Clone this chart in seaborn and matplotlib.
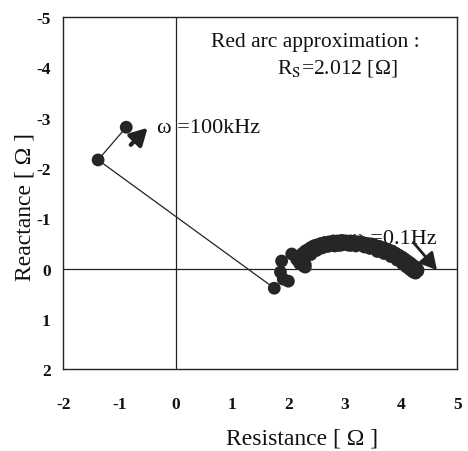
import numpy as np
import pandas as pd
import seaborn as sns
import matplotlib.pyplot as plt

# impedance points (resistance, reactance)
hf_r = [-0.88, -1.38, 1.75]
hf_x = [-2.81, -2.16, 0.39]

cluster_r = [1.86, 1.88, 1.91, 2.00, 2.06, 2.24, 2.30, 2.20, 2.27]
cluster_x = [0.07, -0.15, 0.21, 0.25, -0.29, -0.15, -0.03, -0.10, -0.05]

arc_r = [2.15, 2.20, 2.25, 2.30, 2.35, 2.40, 2.45, 2.50, 2.58, 2.65, 2.72, 2.80,
         2.88, 2.95, 3.02, 3.10, 3.18, 3.25, 3.32, 3.40, 3.47, 3.55, 3.62, 3.70,
         3.77, 3.84, 3.90, 3.96, 4.02, 4.07, 4.12, 4.17, 4.21, 4.25, 4.28, 4.30,
         2.90, 3.10, 3.60, 4.00, 4.20, 4.30, 2.40]
arc_x = [-0.18, -0.25, -0.30, -0.35, -0.38, -0.42, -0.45, -0.47, -0.50, -0.52, -0.53, -0.55,
         -0.55, -0.56, -0.55, -0.55, -0.54, -0.53, -0.52, -0.50, -0.49, -0.46, -0.44, -0.41,
         -0.38, -0.35, -0.31, -0.27, -0.23, -0.19, -0.15, -0.11, -0.07, -0.04, -0.01, 0.02,
         -0.46, -0.46, -0.37, -0.15, 0.05, 0.05, -0.32]

# lower edge of the thick arc band
band_r = [2.30, 2.40, 2.50, 2.60, 2.70, 2.82, 2.95, 3.05, 3.20, 3.35, 3.45, 3.58,
          3.70, 3.82, 3.93, 4.03, 4.10, 4.16, 4.22, 4.26]
band_x = [-0.08, -0.28, -0.36, -0.41, -0.44, -0.45, -0.47, -0.47, -0.45, -0.43, -0.40, -0.34,
          -0.30, -0.24, -0.17, -0.09, -0.03, 0.02, 0.07, 0.09]

x_ticks = [-2, -1, 0, 1, 2, 3, 4, 5]
y_ticks = [-5, -4, -3, -2, -1, 0, 1, 2]
x_ticklabels = ['-2', '-1', '0', '1', '2', '3', '4', '5']
y_ticklabels = ['-5', '-4', '-3', '-2', '-1', '0', '1', '2']

sns.set_style('white')
plt.rcParams['font.family'] = ['Liberation Serif', 'DejaVu Serif']
plt.rcParams['mathtext.fontset'] = 'stix'
plt.rcParams['text.color'] = '#111111'
plt.rcParams['axes.labelcolor'] = '#111111'

pts = pd.DataFrame({'r': hf_r + cluster_r + arc_r + band_r,
                    'x': hf_x + cluster_x + arc_x + band_x})
line = pd.DataFrame({'r': hf_r, 'x': hf_x})

fig = plt.figure(figsize=(4.68, 4.52), dpi=100)
ax = fig.add_axes([0.135, 0.181, 0.842, 0.779])

ax.axvline(0, color='#222222', lw=0.9, zorder=1)
ax.axhline(0, color='#222222', lw=0.9, zorder=1)

sns.lineplot(data=line, x='r', y='x', sort=False, color='#222222', lw=0.9, ax=ax, zorder=2)
sns.scatterplot(data=pts, x='r', y='x', color='#262626', s=85, edgecolor='none', ax=ax, zorder=3)

ax.set_xlim(-2, 5)
ax.set_ylim(2, -5)
ax.set_xticks(x_ticks)
ax.set_xticklabels(x_ticklabels, fontsize=12.5, fontweight='bold', color='#111111')
ax.set_yticks(y_ticks)
ax.set_yticklabels(y_ticklabels, fontsize=12.5, fontweight='bold', color='#111111')
ax.tick_params(axis='x', direction='in', length=5, pad=19, color='#222222')
ax.tick_params(axis='y', direction='in', length=5, pad=9, color='#222222')
for sp in ax.spines.values():
    sp.set_color('#222222')
    sp.set_linewidth(1.0)

ax.set_xlabel('Resistance [ Ω ]', fontsize=17)
ax.set_ylabel('Reactance [ Ω ]', fontsize=17)
ax.xaxis.set_label_coords(0.607, -0.165)
ax.yaxis.set_label_coords(-0.07, 0.463)

ax.text(0.62, -4.52, 'Red arc approximation :', fontsize=15.5, va='center')
ax.text(1.8, -4.0, r'R$_\mathrm{S}$=2.012 [Ω]', fontsize=15.5, va='center')

ax.text(-0.33, -2.8, 'ω =100kHz', fontsize=16, va='center')
ax.annotate('', xy=(-0.5, -2.8), xytext=(-0.8, -2.46),
            arrowprops=dict(arrowstyle='-|>,head_width=0.55,head_length=1.0',
                            lw=3, color='#222222', shrinkA=0, shrinkB=0))

ax.text(3.1, -0.6, 'ω =0.1Hz', fontsize=16, va='center', zorder=2)
ax.annotate('', xy=(4.64, 0.03), xytext=(4.22, -0.52),
            arrowprops=dict(arrowstyle='-|>,head_width=0.55,head_length=1.0',
                            lw=2, color='#222222', shrinkA=0, shrinkB=0), zorder=4)

fig.savefig('out.png', dpi=100)
